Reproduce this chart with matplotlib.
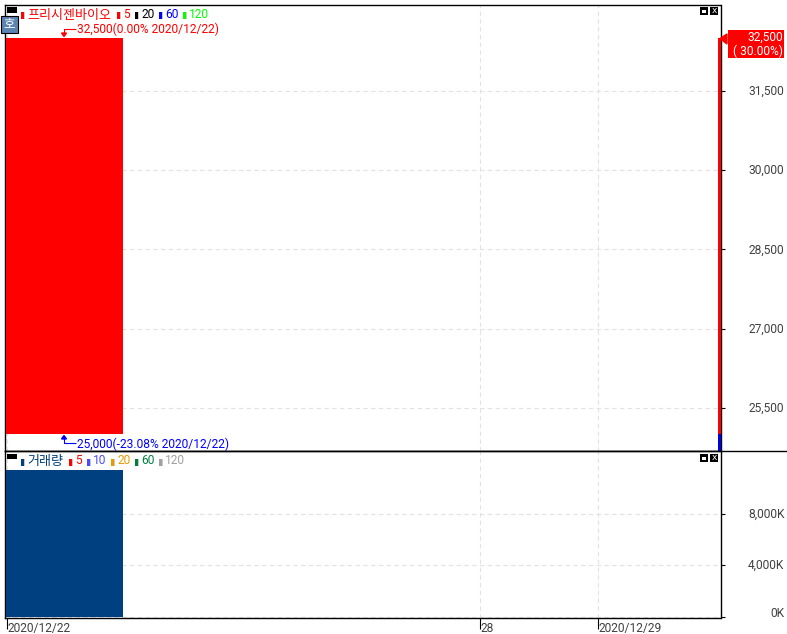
#!/usr/bin/env python3
"""Daily price and volume panes for a single stock, HTS chart style."""

import matplotlib

matplotlib.use("Agg")
import matplotlib.pyplot as plt
from matplotlib.patches import Polygon, Rectangle
from matplotlib.transforms import Affine2D, ScaledTranslation

WIDTH, HEIGHT = 787, 634

# sessions on the x axis: 12/22 is slot 0, 12/28 slot 4, 12/29 slot 5
bar_slots = [-0.0085, 6.01]
bar_widths = [0.9915, 0.025]
price_low = [25000, 25000]
price_high = [32500, 32500]
limit_floor = [24686]
volume_slots = [-0.0085]
volume_values = [11394]

price_ticks = [25500, 27000, 28500, 30000, 31500]
volume_ticks = [0, 4000, 8000]
date_slots = [0, 4, 5]
date_labels = ["2020/12/22", "28", "2020/12/29"]

price_legend = [("프리시젠바이오", "#ff0000"), ("5", "#ff0000"), ("20", "#000000"),
                ("60", "#0000ff"), ("120", "#00ff00")]
price_legend_x = [21, 117, 135, 159, 183]
volume_legend = [("거래량", "#004080"), ("5", "#ff0000"), ("10", "#4a4aff"),
                 ("20", "#e69a00"), ("60", "#008040"), ("120", "#a0a0a0")]
volume_legend_x = [21, 69, 87, 111, 135, 159]

LATIN = ["Roboto", "Noto Sans CJK KR", "DejaVu Sans"]
KOREAN = ["Noto Sans CJK KR", "DejaVu Sans"]
TEXT_SIZE = 8.65
TICK_GRAY = "#404040"
GRID = "#e2e2e2"

# pixel coordinates measured from the top left, for the window furniture
PX = Affine2D().scale(1, -1).translate(0, HEIGHT)


def make_axes(fig, left, top, right, bottom):
    return fig.add_axes([left / WIDTH, 1 - bottom / HEIGHT,
                         (right - left) / WIDTH, (bottom - top) / HEIGHT])


def px_rect(fig, x0, y0, x1, y1, color, edge="none", lw=0.0, z=5):
    fig.add_artist(Rectangle((x0, y0), x1 - x0, y1 - y0, transform=PX,
                             facecolor=color, edgecolor=edge, linewidth=lw, zorder=z))


def px_text(fig, x, y, text, color, family=LATIN, size=TEXT_SIZE, ha="left"):
    fig.text(x, y, text, transform=PX, color=color, family=family, fontsize=size,
             ha=ha, va="center", zorder=8)


def px_line(fig, xs, ys, color, lw=0.8):
    fig.add_artist(plt.Line2D(xs, ys, transform=PX, color=color, linewidth=lw,
                              solid_capstyle="butt", zorder=7))


def draw_legend(fig, entries, xs, y):
    for i, ((label, color), x) in enumerate(zip(entries, xs)):
        px_rect(fig, x + 3, y - 3, x + 4, y + 4, "#c8c8c8")
        px_rect(fig, x, y - 3, x + 3, y + 4, color)
        if i == 0:
            px_text(fig, x + 6, y + 0.5, label, color, family=KOREAN, size=9.4)
        else:
            px_text(fig, x + 6, y - 0.5, label, color)


def draw_window_icons(fig, y):
    px_rect(fig, 700, y, 708, y + 8, "#000000")
    px_rect(fig, 702, y + 3, 706, y + 6, "#ffffff")
    px_rect(fig, 710, y, 718, y + 8, "#000000")
    px_text(fig, 714, y + 3.5, "x", "#ffffff", family=["DejaVu Sans"], size=6.5, ha="center")


def nudge_up(fig, label, pixels):
    label.set_transform(label.get_transform()
                        + ScaledTranslation(0, pixels / fig.dpi, fig.dpi_scale_trans))


def style_axes(fig, ax):
    ax.yaxis.tick_right()
    ax.set_axisbelow(True)
    ax.grid(True, color=GRID, linestyle=(0, (4, 3)), linewidth=0.8)
    for spine in ax.spines.values():
        spine.set_color("#000000")
        spine.set_linewidth(1.0)
    ax.tick_params(axis="y", length=3, width=0.8, pad=43, labelcolor=TICK_GRAY,
                   labelsize=TEXT_SIZE)
    for label in ax.get_yticklabels():
        label.set_horizontalalignment("right")
        label.set_family(LATIN)
        nudge_up(fig, label, 1)


def main():
    fig = plt.figure(figsize=(WIDTH / 100, HEIGHT / 100), dpi=100, facecolor="white")

    price_ax = make_axes(fig, 5, 4.5, 720.5, 451)
    volume_ax = make_axes(fig, 5, 451, 720.5, 618)

    for ax in (price_ax, volume_ax):
        ax.set_xlim(-0.017, 6.033)

    price_ax.bar(bar_slots, [h - l for h, l in zip(price_high, price_low)],
                 width=bar_widths, bottom=price_low, align="edge", color="#ff0000", zorder=3)
    price_ax.bar(bar_slots[1:], [price_low[1] - limit_floor[0]], width=bar_widths[1:],
                 bottom=limit_floor, align="edge", color="#0000e0", zorder=3)
    price_ax.set_ylim(24686, 33137)
    price_ax.set_yticks(price_ticks, [f"{v:,}" for v in price_ticks])
    price_ax.set_xticks(date_slots, [])
    price_ax.tick_params(axis="x", length=0)
    style_axes(fig, price_ax)

    volume_ax.bar(volume_slots, volume_values, width=bar_widths[:1], align="edge",
                  color="#004080", zorder=3)
    volume_ax.set_ylim(-100, 12871)
    volume_ax.set_yticks(volume_ticks, [f"{v:,}K" for v in volume_ticks])
    volume_ax.set_xticks(date_slots, date_labels)
    style_axes(fig, volume_ax)
    # the zero label sits above its tick, clear of the pane's bottom edge
    nudge_up(fig, volume_ax.get_yticklabels()[0], 4)
    volume_ax.tick_params(axis="x", length=8, width=0.8, pad=-5, labelcolor=TICK_GRAY,
                          labelsize=TEXT_SIZE)
    for label in volume_ax.get_xticklabels():
        label.set_horizontalalignment("left")
        label.set_family(LATIN)

    # separator between the panes runs on to the edge of the window
    px_line(fig, [5, WIDTH], [451, 451], "#000000", lw=1.0)

    # header strip of each pane
    px_rect(fig, 7, 7, 17, 13, "#000000")
    px_rect(fig, 7, 454, 17, 459, "#000000")
    draw_legend(fig, price_legend, price_legend_x, 14.5)
    draw_legend(fig, volume_legend, volume_legend_x, 461.5)
    draw_window_icons(fig, 7)
    draw_window_icons(fig, 454)

    # collapse button
    px_rect(fig, 1, 16, 17.5, 33, "#5b84b1", edge="#000000", lw=0.8)
    px_text(fig, 9.3, 24, "호", "#ffffff", family=KOREAN, size=9, ha="center")

    # high and low call-outs
    px_text(fig, 77, 29, "32,500(0.00% 2020/12/22)", "#ff0000")
    px_line(fig, [76, 64, 64], [29, 29, 34], "#ff0000")
    fig.add_artist(Polygon([(61.5, 33), (66.5, 33), (64, 36.5)], transform=PX,
                           color="#ff0000", zorder=7))
    px_text(fig, 77, 444, "25,000(-23.08% 2020/12/22)", "#0000ff")
    px_line(fig, [76, 64, 64], [443, 443, 438], "#0000ff")
    fig.add_artist(Polygon([(61.5, 439), (66.5, 439), (64, 435.5)], transform=PX,
                           color="#0000ff", zorder=7))

    # current price tag
    px_rect(fig, 728, 30, 784, 58, "#ff0000")
    fig.add_artist(Polygon([(720, 38.5), (727, 34), (727, 44)], transform=PX,
                           color="#ff0000", zorder=7))
    px_text(fig, 783, 37, "32,500", "#ffffff", ha="right")
    px_text(fig, 783, 51, "( 30.00%)", "#ffffff", ha="right")

    fig.savefig("out.png", dpi=100)
    plt.close(fig)


if __name__ == "__main__":
    main()
